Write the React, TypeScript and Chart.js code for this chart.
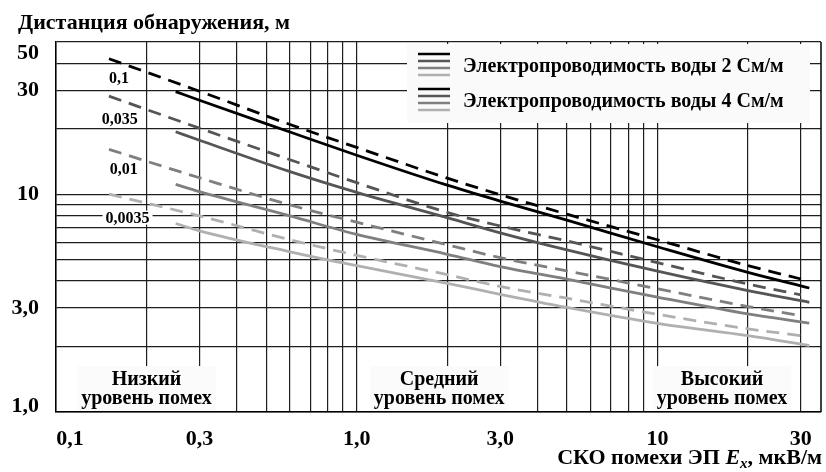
import React, { useEffect, useRef } from "react";
import { Chart, registerables } from "chart.js";
Chart.register(...registerables);

// ---- data ----
const noiseDashed = [0.15, 0.3, 0.6, 1, 2, 3, 5, 10, 20, 30];
const noiseSolid = [0.25, 0.3, 0.6, 1, 2, 3, 5, 10, 20, 32];

const dashed01 = [41.9, 29.7, 20.9, 16.4, 11.85, 9.95, 8.1, 6.18, 4.7, 4.08];
const solid01 = [29.6, 27.0, 19.3, 15.1, 11.0, 9.3, 7.6, 5.74, 4.38, 3.71];
const dashed0035 = [28.2, 20.1, 14.4, 11.3, 8.25, 7.15, 6.1, 4.85, 3.87, 3.45];
const solid0035 = [19.35, 17.7, 12.7, 10.2, 7.81, 6.65, 5.55, 4.43, 3.61, 3.19];
const dashed001 = [16.07, 11.9, 8.93, 7.44, 5.86, 5.11, 4.45, 3.68, 3.05, 2.77];
const solid001 = [11.1, 10.28, 7.95, 6.54, 5.3, 4.65, 4.07, 3.37, 2.82, 2.56];
const dashed00035 = [10.0, 7.95, 6.18, 5.24, 4.27, 3.77, 3.33, 2.81, 2.41, 2.24];
const solid00035 = [7.34, 6.79, 5.44, 4.7, 3.9, 3.47, 3.02, 2.55, 2.24, 2.02];

const seriesColors = ["#000000", "#555555", "#7f7f7f", "#b0b0b0"];

const xGridValues = [0.1, 0.2, 0.3, 0.4, 0.5, 0.6, 0.7, 0.8, 0.9, 1, 2, 3, 4, 5, 6, 7, 8, 9, 10, 20, 30];
const yGridValues = [1, 2, 3, 4, 5, 6, 7, 8, 9, 10, 20, 30, 40, 50];
const xTickValues = [0.1, 0.3, 1, 3, 10, 30];
const xTickLabels = ["0,1", "0,3", "1,0", "3,0", "10", "30"];
const yTickValues = [1, 3, 10, 30, 50];
const yTickLabels = ["1,0", "3,0", "10", "30", "50"];

const curveLabelTexts = ["0,1", "0,035", "0,01", "0,0035"];
const curveLabelX = [0.162, 0.163, 0.168, 0.173];
const curveLabelY = [34.1, 22.2, 13.1, 7.81];

const regionCenters = [0.2, 1.88, 16.4];
const regionLine1 = ["Низкий", "Средний", "Высокий"];
const regionLine2 = ["уровень помех", "уровень помех", "уровень помех"];

const legendTexts = ["Электропроводимость воды 2 См/м", "Электропроводимость воды 4 См/м"];

const yTitle = "Дистанция обнаружения, м";
const xTitleParts = ["СКО помехи ЭП ", "E", "x", ", мкВ/м"];

const FONT = '"Liberation Serif", "Times New Roman", serif';

function pts(xs: number[], ys: number[]) {
  return xs.map((x, i) => ({ x, y: ys[i] }));
}

const overlay = {
  id: "overlay",
  beforeDatasetsDraw(chart: any) {
    const { ctx, chartArea } = chart;
    ctx.save();
    ctx.strokeStyle = "#000";
    ctx.lineWidth = 1.5;
    ctx.beginPath();
    ctx.moveTo(chartArea.right, chartArea.top);
    ctx.lineTo(chartArea.right, chartArea.bottom);
    ctx.stroke();
    ctx.restore();
  },
  afterDatasetsDraw(chart: any) {
    const { ctx, chartArea } = chart;
    const x = chart.scales.x;
    const y = chart.scales.y;
    ctx.save();

    // curve labels
    ctx.font = `bold 16px ${FONT}`;
    ctx.textAlign = "center";
    ctx.textBaseline = "middle";
    curveLabelTexts.forEach((t, i) => {
      const px = x.getPixelForValue(curveLabelX[i]);
      const py = y.getPixelForValue(curveLabelY[i]);
      const w = ctx.measureText(t).width;
      ctx.fillStyle = "#ffffff";
      ctx.fillRect(px - w / 2 - 3, py - 7, w + 6, 14);
      ctx.fillStyle = "#000";
      ctx.fillText(t, px, py + 1);
    });

    // region labels
    ctx.font = `bold 20px ${FONT}`;
    regionCenters.forEach((c, i) => {
      const px = x.getPixelForValue(c);
      const w = Math.max(ctx.measureText(regionLine1[i]).width, ctx.measureText(regionLine2[i]).width) + 8;
      const top = chartArea.bottom - 46;
      ctx.fillStyle = "#fbfbfb";
      ctx.fillRect(px - w / 2, top, w, chartArea.bottom - top - 1);
      ctx.fillStyle = "#000";
      ctx.textAlign = "center";
      ctx.textBaseline = "alphabetic";
      ctx.fillText(regionLine1[i], px, top + 19);
      ctx.fillText(regionLine2[i], px, top + 38);
    });

    // legend
    const lRight = chartArea.right - 11;
    const lLeft = lRight - 403;
    const lTop = chartArea.top + 2;
    ctx.fillStyle = "#fafafa";
    ctx.fillRect(lLeft, lTop, 403, 79);
    legendTexts.forEach((t, i) => {
      const baseY = lTop + 10 + i * 35;
      seriesColors.forEach((c, k) => {
        ctx.strokeStyle = c;
        ctx.lineWidth = 2.5;
        ctx.beginPath();
        ctx.moveTo(lLeft + 11, baseY + k * 7);
        ctx.lineTo(lLeft + 43, baseY + k * 7);
        ctx.stroke();
      });
      ctx.fillStyle = "#000";
      ctx.font = `bold 20px ${FONT}`;
      ctx.textAlign = "left";
      ctx.textBaseline = "alphabetic";
      ctx.fillText(t, lLeft + 56, baseY + 18);
    });
    ctx.restore();
  },
  afterDraw(chart: any) {
    const { ctx, chartArea, width, height } = chart;
    const x = chart.scales.x;
    const y = chart.scales.y;
    ctx.save();
    ctx.fillStyle = "#000";
    ctx.font = `bold 22px ${FONT}`;
    ctx.textBaseline = "middle";
    // x tick labels
    ctx.textAlign = "center";
    xTickValues.forEach((v, i) => {
      let px = x.getPixelForValue(v);
      px = Math.min(Math.max(px, chartArea.left + 14), chartArea.right - 13);
      ctx.fillText(xTickLabels[i], px, chartArea.bottom + 27);
    });
    // y tick labels
    ctx.textAlign = "right";
    yTickValues.forEach((v, i) => {
      let py = y.getPixelForValue(v);
      py = Math.min(Math.max(py, chartArea.top + 11), chartArea.bottom - 6);
      ctx.fillText(yTickLabels[i], 39, py);
    });
    // y title
    ctx.font = `bold 22px ${FONT}`;
    ctx.textAlign = "left";
    ctx.textBaseline = "alphabetic";
    ctx.fillText(yTitle, 18, 29);
    // x title
    const fN = `bold 22px ${FONT}`;
    const fI = `italic bold 22px ${FONT}`;
    const fS = `italic bold 15px ${FONT}`;
    const fonts = [fN, fI, fS, fN];
    const widths = xTitleParts.map((p, i) => {
      ctx.font = fonts[i];
      return ctx.measureText(p).width;
    });
    const total = widths.reduce((a, b) => a + b, 0);
    let cx = width - 4 - total;
    const base = height - 8;
    xTitleParts.forEach((p, i) => {
      ctx.font = fonts[i];
      ctx.fillText(p, cx, i === 2 ? base + 4 : base);
      cx += widths[i];
    });
    ctx.restore();
  },
};

export default function App() {
  const ref = useRef<HTMLCanvasElement | null>(null);
  useEffect(() => {
    document.body.style.margin = "0";
    const canvas = ref.current;
    if (!canvas) return;
    const mk = (label: string, xs: number[], ys: number[], color: string, dashed: boolean) => ({
      label,
      data: pts(xs, ys),
      borderColor: color,
      backgroundColor: color,
      borderWidth: 2.8,
      borderDash: dashed ? [13, 8] : [],
      pointRadius: 0,
      fill: false,
      cubicInterpolationMode: "monotone" as const,
    });
    const chart = new Chart(canvas, {
      type: "line",
      data: {
        datasets: [
          mk("0,1 (2 См/м)", noiseDashed, dashed01, seriesColors[0], true),
          mk("0,1 (4 См/м)", noiseSolid, solid01, seriesColors[0], false),
          mk("0,035 (2 См/м)", noiseDashed, dashed0035, seriesColors[1], true),
          mk("0,035 (4 См/м)", noiseSolid, solid0035, seriesColors[1], false),
          mk("0,01 (2 См/м)", noiseDashed, dashed001, seriesColors[2], true),
          mk("0,01 (4 См/м)", noiseSolid, solid001, seriesColors[2], false),
          mk("0,0035 (2 См/м)", noiseDashed, dashed00035, seriesColors[3], true),
          mk("0,0035 (4 См/м)", noiseSolid, solid00035, seriesColors[3], false),
        ],
      },
      options: {
        animation: false,
        responsive: false,
        layout: { padding: { top: 42, right: 5, left: 0, bottom: 0 } },
        plugins: { legend: { display: false }, tooltip: { enabled: false } },
        scales: {
          x: {
            type: "logarithmic",
            min: 0.1,
            max: 35,
            afterBuildTicks: (s: any) => {
              s.ticks = xGridValues.map((v) => ({ value: v }));
            },
            afterFit: (s: any) => {
              s.height = 60;
            },
            ticks: { display: false },
            grid: { color: "#1e1e1e", lineWidth: 1.2, drawTicks: false },
            border: { color: "#000", width: 1.5 },
          },
          y: {
            type: "logarithmic",
            min: 1,
            max: 50,
            afterBuildTicks: (s: any) => {
              s.ticks = yGridValues.map((v) => ({ value: v }));
            },
            afterFit: (s: any) => {
              s.width = 56;
            },
            ticks: { display: false },
            grid: { color: "#1e1e1e", lineWidth: 1.2, drawTicks: false },
            border: { color: "#000", width: 1.5 },
          },
        },
      },
      plugins: [overlay],
    });
    return () => chart.destroy();
  }, []);
  return (
    <div style={{ width: 826, height: 472, position: "relative", background: "#fff" }}>
      <canvas ref={ref} width={826} height={472} style={{ display: "block" }} />
    </div>
  );
}
